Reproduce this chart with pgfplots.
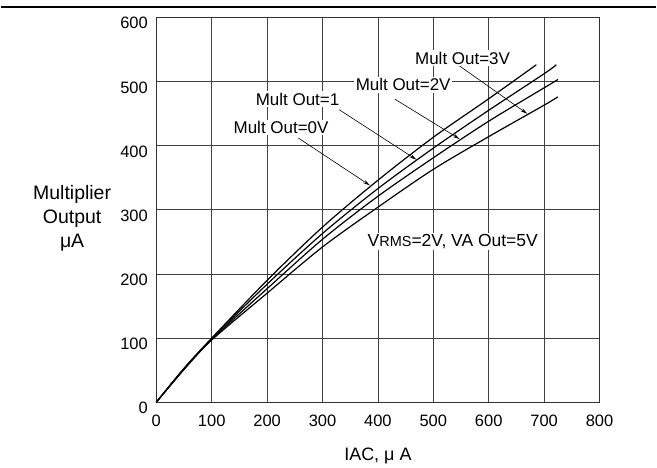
\documentclass[border=0pt]{standalone}
\usepackage{fontspec}
\setmainfont{Liberation Sans}
\usepackage{pgfplots}
\pgfplotsset{compat=1.18}
\usetikzlibrary{arrows.meta}

\newcommand\anno{\fontsize{17}{20}\selectfont}

\begin{document}
\begin{tikzpicture}[x=1pt,y=1pt]
\begin{axis}[
  at={(0,0)}, anchor=south west,
  scale only axis, width=444pt, height=385.7pt,
  xmin=0, xmax=800, ymin=0, ymax=600,
  xtick={0,100,...,800}, ytick={0,100,...,600},
  grid=major,
  major grid style={black!75, line width=0.7pt},
  axis line style={black!80, line width=0.8pt},
  major tick length=0pt,
  tick label style={font=\fontsize{16.5}{19}\selectfont},
  /pgf/number format/assume math mode=true,
  xticklabel style={yshift=-9pt},
  yticklabel style={xshift=-5pt, yshift=-6pt},
  xlabel={IAC, μ A},
  xlabel style={font=\fontsize{18}{21}\selectfont, at={(axis description cs:0.5,-0.14)}, anchor=center},
  ylabel={Multiplier\\[2pt]Output\\[2pt]μA},
  ylabel style={font=\fontsize{19.5}{22}\selectfont, rotate=-90, align=center, at={(axis description cs:-0.19,0.478)}, anchor=center},
  clip=false,
]
% Mult Out = 0V
\addplot[black, line width=1.2pt, smooth] coordinates {
  (0,0) (50,53) (100,100) (200,190) (300,273) (400,346) (500,413) (600,473) (686,526)};
% Mult Out = 1V
\addplot[black, line width=1.2pt, smooth] coordinates {
  (0,0) (50,52) (100,99) (200,184) (300,263) (400,333) (500,396) (600,455) (700,512) (722,526)};
% Mult Out = 2V
\addplot[black, line width=1.2pt, smooth] coordinates {
  (0,0) (50,52) (100,98) (200,177) (300,254) (400,321) (500,381) (600,438) (700,490) (725,503)};
% Mult Out = 3V
\addplot[black, line width=1.2pt, smooth] coordinates {
  (0,0) (50,51) (100,97) (200,170) (300,242) (400,304) (500,363) (600,414) (700,463) (725,476)};

\tikzset{lead/.style={-{Stealth[length=7pt,width=3.5pt]}, line width=0.6pt}}
\draw[lead] (axis cs:256.4,411.8) -- (axis cs:385.6,338.0);
\draw[lead] (axis cs:330.3,455.8) -- (axis cs:469.7,378.0);
\draw[lead] (axis cs:430.6,472.4) -- (axis cs:547.7,410.2);
\draw[lead] (axis cs:544.7,525.8) -- (axis cs:669.7,449.6);

\tikzset{lbl/.style={fill=white, inner sep=1.5pt, font=\anno}}
\node[lbl] at (axis cs:225.2,428.6) {Mult Out=0V};
\node[lbl] at (axis cs:255,472.4) {Mult Out=1};
\node[lbl] at (axis cs:445.6,494.7) {Mult Out=2V};
\node[lbl] at (axis cs:552.8,536.2) {Mult Out=3V};
\node[lbl, font=\fontsize{17.5}{20}\selectfont] at (axis cs:535.1,250.9) {V{\fontsize{14.5}{16}\selectfont RMS}=2V, VA Out=5V};
\end{axis}
\draw[line width=1.2pt] (-156,396) -- (501,396);
\path[use as bounding box] (-156,-65) rectangle (501,403);
\end{tikzpicture}
\end{document}
